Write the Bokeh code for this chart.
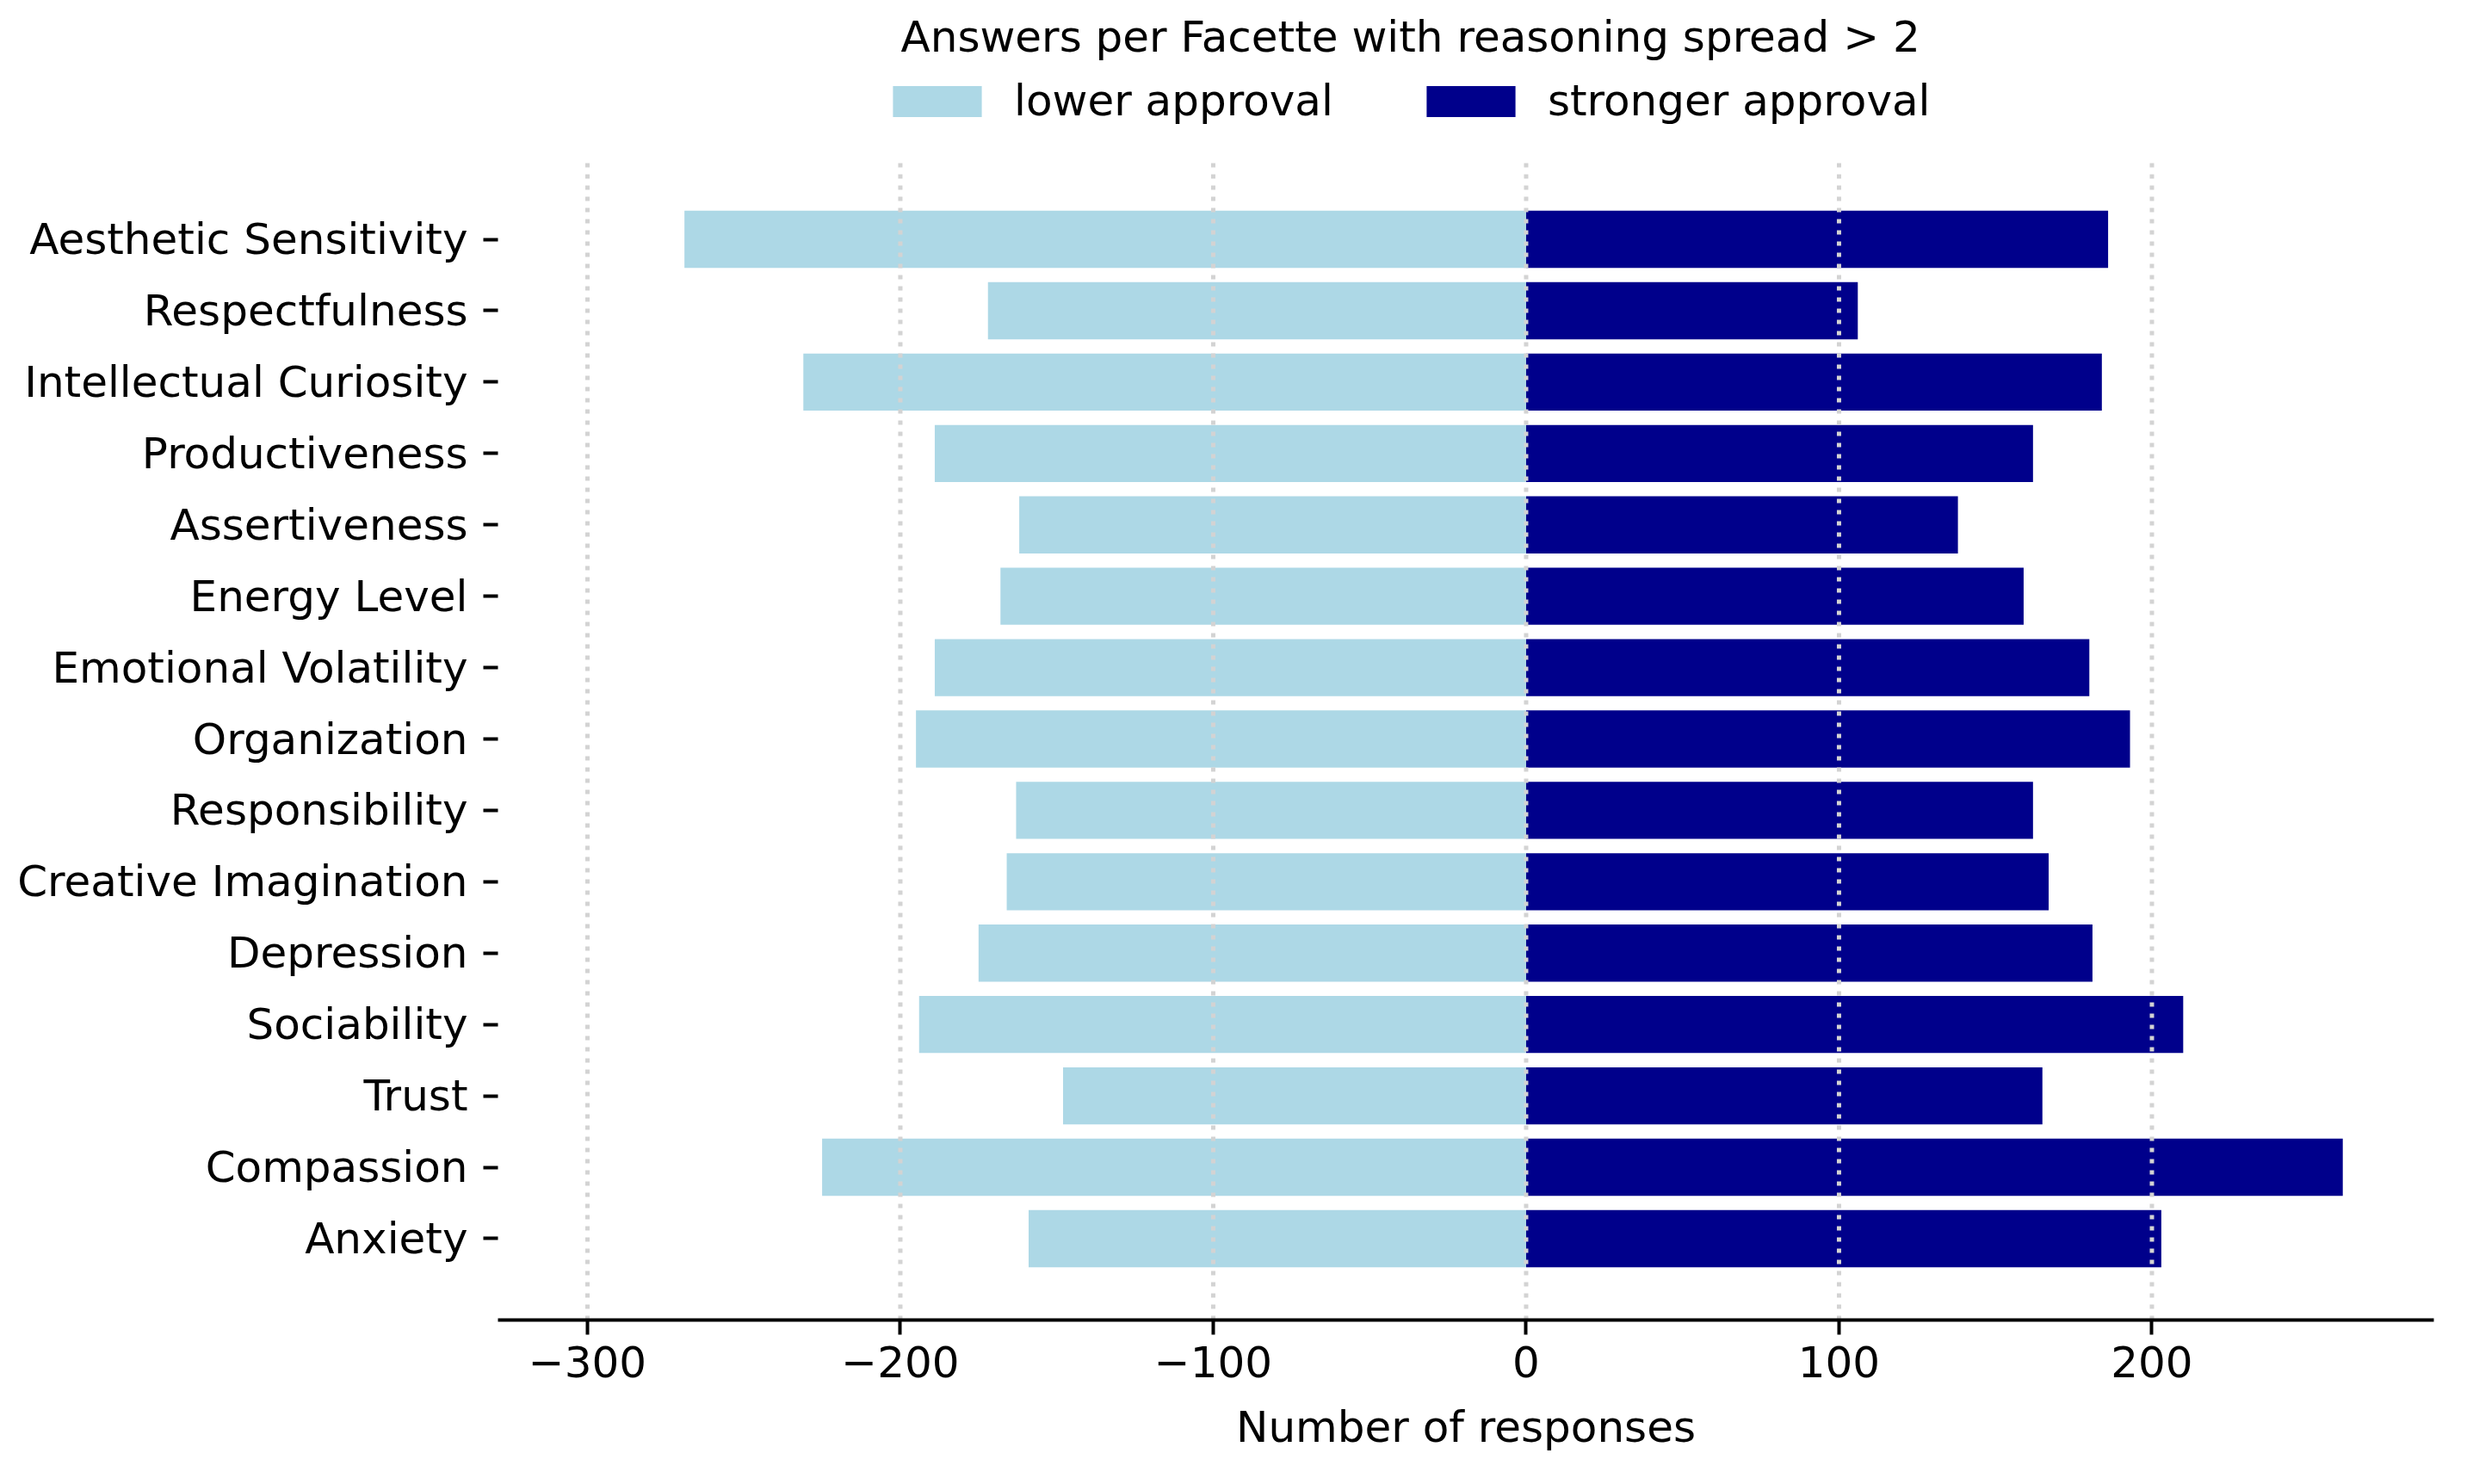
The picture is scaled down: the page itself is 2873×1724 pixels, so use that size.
from bokeh.plotting import figure
from bokeh.models import Range1d, FixedTicker, Legend, LegendItem, Label
from bokeh.embed import file_html
from bokeh.resources import INLINE

# ---- data ----
categories = ["Aesthetic Sensitivity", "Respectfulness", "Intellectual Curiosity",
              "Productiveness", "Assertiveness", "Energy Level", "Emotional Volatility",
              "Organization", "Responsibility", "Creative Imagination", "Depression",
              "Sociability", "Trust", "Compassion", "Anxiety"]
lower_approval = [-269, -172, -231, -189, -162, -168, -189, -195, -163, -166, -175, -194, -148, -225, -159]
stronger_approval = [186, 106, 184, 162, 138, 159, 180, 193, 162, 167, 181, 210, 165, 261, 203]
x_ticks = [-300, -200, -100, 0, 100, 200]
x_tick_labels = ["\u2212300", "\u2212200", "\u2212100", "0", "100", "200"]
series_labels = ["lower approval", "stronger approval"]
series_colors = ["lightblue", "darkblue"]
title_text = "Answers per Facette with reasoning spread > 2"
x_label = "Number of responses"

FONT = "DejaVu Sans"
FS = "50px"

n = len(categories)
ypos = [n - 1 - i for i in range(n)]

# axes area (matplotlib-like margins) ; frame extends upward to hold legend
y_lo = -1.14
y_hi = n - 1 + 1.14
frame_h_px = 1533          # canvas px from top to x-axis line
axes_h_px = 1350           # px covered by y_lo..y_hi
y_top = y_lo + (y_hi - y_lo) * frame_h_px / axes_h_px

p = figure(width=2857, height=1708, output_backend="svg", toolbar_location=None,
           x_range=Range1d(-328.6, 290.1), y_range=Range1d(y_lo, y_top),
           min_border_left=578, min_border_right=30, min_border_top=0, min_border_bottom=175)
p.outline_line_color = None
p.background_fill_color = "white"
p.border_fill_color = "white"

r1 = p.hbar(y=ypos, left=0, right=lower_approval, height=0.8,
            fill_color=series_colors[0], line_color=None)
r2 = p.hbar(y=ypos, left=0, right=stronger_approval, height=0.8,
            fill_color=series_colors[1], line_color=None)

# dotted vertical grid lines at the x ticks, drawn over the bars, limited to axes area
p.segment(x0=x_ticks, y0=[y_lo] * len(x_ticks), x1=x_ticks, y1=[y_hi] * len(x_ticks),
          line_color="lightgray", line_width=5, line_dash="5 8")
p.xgrid.visible = False
p.ygrid.visible = False

# x axis
xa = p.xaxis[0]
xa.ticker = FixedTicker(ticks=x_ticks, minor_ticks=[])
xa.major_label_overrides = {t: l for t, l in zip(x_ticks, x_tick_labels)}
xa.axis_line_width = 4
xa.axis_line_color = "black"
xa.major_tick_out = 17
xa.major_tick_in = 0
xa.major_tick_line_width = 4
xa.minor_tick_out = 0
xa.minor_tick_in = 0
xa.major_label_text_font = FONT
xa.major_label_text_font_size = FS
xa.major_label_text_color = "black"
xa.major_label_standoff = 13
xa.axis_label = x_label
xa.axis_label_text_font = FONT
xa.axis_label_text_font_size = FS
xa.axis_label_text_font_style = "normal"
xa.axis_label_text_color = "black"
xa.axis_label_standoff = 26

# y axis
ya = p.yaxis[0]
ya.ticker = FixedTicker(ticks=ypos, minor_ticks=[])
ya.major_label_overrides = {yy: c for yy, c in zip(ypos, categories)}
ya.axis_line_color = None
ya.major_tick_out = 17
ya.major_tick_in = 0
ya.major_tick_line_width = 4
ya.major_tick_line_color = "black"
ya.minor_tick_out = 0
ya.minor_tick_in = 0
ya.major_label_text_font = FONT
ya.major_label_text_font_size = FS
ya.major_label_text_color = "black"
ya.major_label_standoff = 18

# legend
legend = Legend(items=[LegendItem(label=series_labels[0], renderers=[r1]),
                       LegendItem(label=series_labels[1], renderers=[r2])],
                orientation="horizontal", location=(446, 1387),
                glyph_width=129, glyph_height=45, label_standoff=25, spacing=95,
                padding=0, margin=0, border_line_color=None, background_fill_alpha=0,
                label_text_font=FONT, label_text_font_size=FS, label_text_color="black")
p.add_layout(legend)

title = Label(x=468, y=1491, x_units="screen", y_units="screen", text=title_text,
              text_font=FONT, text_font_size=FS, text_color="black",
              text_baseline="alphabetic", text_align="left")
p.add_layout(title)

open("out.html", "w").write(file_html(p, INLINE))
